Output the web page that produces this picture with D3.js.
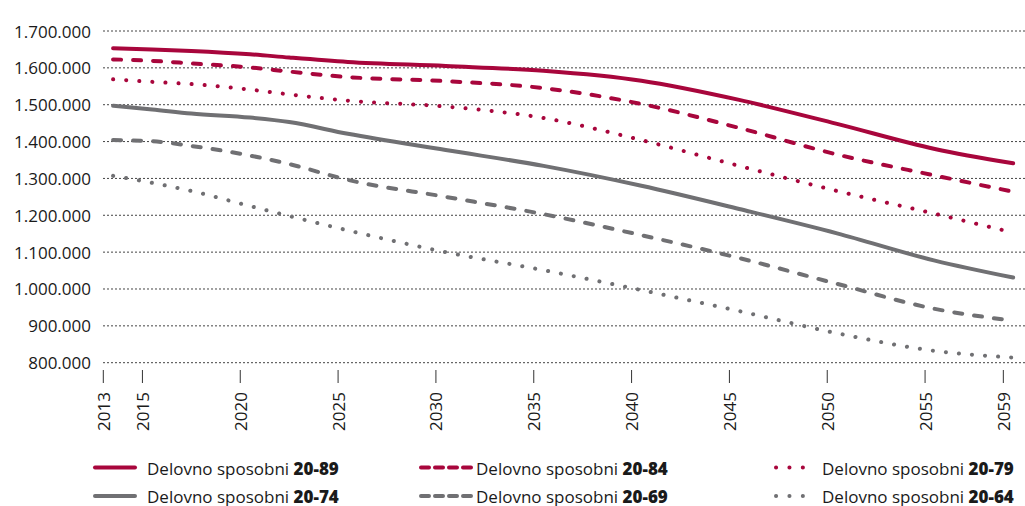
<!DOCTYPE html>
<html>
<head>
<meta charset="utf-8">
<script src="https://cdn.jsdelivr.net/npm/d3@7"></script>
<style>
  body { margin: 0; background: #fff; }
  text { font-family: "Open Sans", sans-serif; fill: #1a1a1a; }
</style>
</head>
<body>
<script>
const years = [2013, 2015, 2017, 2020, 2022, 2025, 2030, 2035, 2040, 2045, 2050, 2055, 2059];
const tickYears = [2013, 2015, 2020, 2025, 2030, 2035, 2040, 2045, 2050, 2055, 2059];
const yTicks = [800000, 900000, 1000000, 1100000, 1200000, 1300000, 1400000, 1500000, 1600000, 1700000];

const s2089 = [1653000, 1650000, 1646000, 1637000, 1628000, 1616000, 1605000, 1592000, 1565000, 1513000, 1448000, 1380000, 1341000];
const s2084 = [1623000, 1619000, 1612000, 1601000, 1590000, 1575000, 1564000, 1545000, 1502000, 1437000, 1365000, 1308000, 1264000];
const s2079 = [1569000, 1562000, 1556000, 1541000, 1528000, 1511000, 1495000, 1464000, 1404000, 1334000, 1266000, 1204000, 1153000];
const s2074 = [1497000, 1487000, 1476000, 1465000, 1453000, 1421000, 1377000, 1334000, 1280000, 1217000, 1151000, 1077000, 1031000];
const s2069 = [1404000, 1401000, 1388000, 1362000, 1339000, 1296000, 1250000, 1203000, 1146000, 1084000, 1014000, 946000, 914000];
const s2064 = [1307000, 1288000, 1266000, 1225000, 1198000, 1159000, 1100000, 1051000, 997000, 940000, 880000, 832000, 814000];

const seriesNames = ["20-89", "20-84", "20-79", "20-74", "20-69", "20-64"];
const seriesValues = [s2089, s2084, s2079, s2074, s2069, s2064];

const red = "#a8063c", gray = "#707073";
const styles = [
  { color: red, dash: null },
  { color: red, dash: "8,12" },
  { color: red, dash: "0.1,13" },
  { color: gray, dash: null },
  { color: gray, dash: "8,12" },
  { color: gray, dash: "0.1,13" },
];

const W = 1025, H = 506;
const svg = d3.select("body").append("svg").attr("width", W).attr("height", H);

const x = d3.scaleLinear().domain([2013, 2060]).range([103.3, 1022.9]);
const y = d3.scaleLinear().domain([800000, 1700000]).range([362.7, 31]);

const loc = d3.formatLocale({ decimal: ",", thousands: ".", grouping: [3], currency: ["", ""] });
const fmt = loc.format(",");

// gridlines
svg.append("g").selectAll("line").data(yTicks).enter().append("line")
  .attr("x1", 103).attr("x2", W)
  .attr("y1", d => y(d)).attr("y2", d => y(d))
  .attr("stroke", "#444").attr("stroke-width", 1).attr("stroke-dasharray", "2,2");

svg.append("g").selectAll("text").data(yTicks).enter().append("text")
  .attr("x", 91).attr("y", d => y(d))
  .attr("text-anchor", "end").attr("dominant-baseline", "central")
  .style("font-size", "17px")
  .text(d => fmt(d));

// x ticks
const xt = svg.append("g").selectAll("g").data(tickYears).enter().append("g")
  .attr("transform", d => `translate(${x(d)},0)`);
xt.append("line").attr("y1", 370).attr("y2", 383).attr("stroke", "#333");
xt.append("text")
  .attr("transform", "translate(0,392) rotate(-90)")
  .attr("text-anchor", "end").attr("dominant-baseline", "central")
  .style("font-size", "17px")
  .text(d => d);

// lines
const line = d3.line().x(d => x(d[0] + 0.5)).y(d => y(d[1])).curve(d3.curveMonotoneX);
seriesValues.forEach((vals, i) => {
  svg.append("path")
    .datum(years.map((yr, j) => [yr, vals[j]]))
    .attr("d", line)
    .attr("fill", "none")
    .attr("stroke", styles[i].color)
    .attr("stroke-width", 4)
    .attr("stroke-linecap", "round")
    .attr("stroke-dasharray", styles[i].dash);
});

// legend
const colX = [95, 421, 776];
const colLen = [40, 52, 40];
const rowY = [467.5, 496];
const lg = svg.append("g").selectAll("g").data(seriesNames).enter().append("g")
  .attr("transform", (d, i) => `translate(${colX[i % 3]},${rowY[Math.floor(i / 3)]})`);
lg.append("line")
  .attr("x1", 0).attr("x2", (d, i) => colLen[i % 3])
  .attr("stroke", (d, i) => styles[i].color)
  .attr("stroke-width", 4).attr("stroke-linecap", "round")
  .attr("stroke-dasharray", (d, i) => styles[i].dash === "0.1,13" ? "0.1,13.3" : styles[i].dash === "8,12" ? "8,6" : null);
const lt = lg.append("text")
  .attr("x", (d, i) => [52, 55, 46][i % 3])
  .attr("dominant-baseline", "central")
  .style("font-size", "17px");
lt.append("tspan").text("Delovno sposobni ");
lt.append("tspan").style("font-weight", "800").text(d => d);
</script>
</body>
</html>
